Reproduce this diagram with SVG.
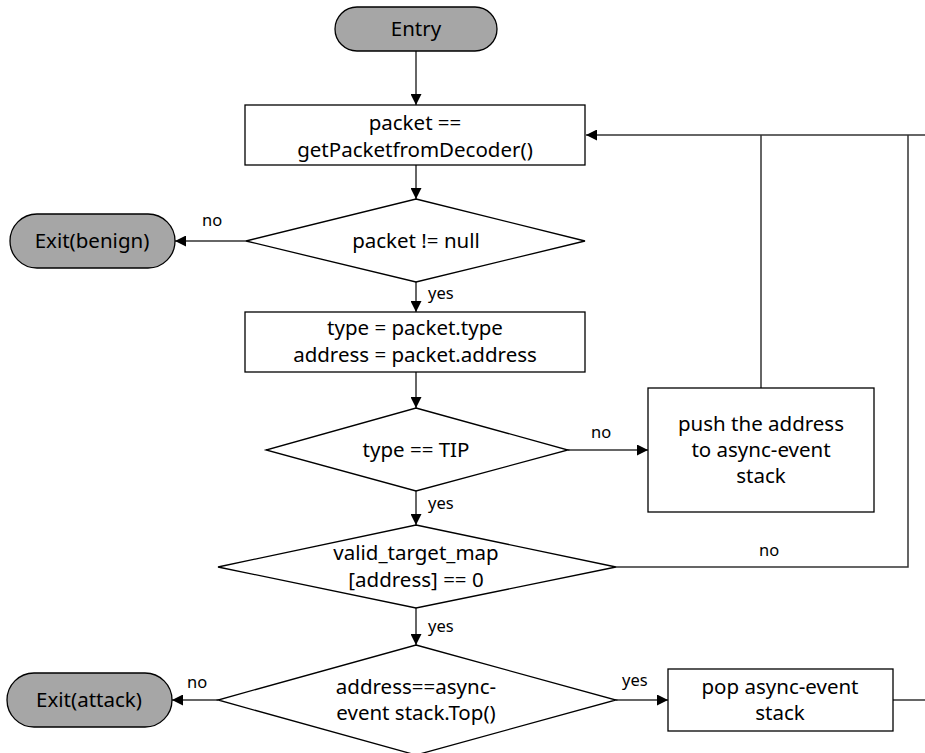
<svg xmlns="http://www.w3.org/2000/svg" width="925" height="753" viewBox="0 0 925 753">
  <defs>
    <marker id="arrow" viewBox="0 0 10 10" refX="10" refY="5" markerWidth="11" markerHeight="11" markerUnits="userSpaceOnUse" orient="auto">
      <path d="M0,0 L10,5 L0,10 Z" fill="#000"/>
    </marker>
    <style>
      .shape { fill: #fff; stroke: #000; stroke-width: 1.3; }
      .term { fill: #a6a6a6; stroke: #000; stroke-width: 1.3; }
      .edge { fill: none; stroke: #333; stroke-width: 1.5; }
      .arr { marker-end: url(#arrow); }
      text { font-family: "Noto Sans", "Open Sans", sans-serif; font-size: 20.5px; fill: #000; text-anchor: middle; }
      .lbl { font-size: 16.5px; text-anchor: start; }
    </style>
  </defs>
  <rect width="925" height="753" fill="#fff"/>

  <!-- connectors -->
  <g id="connectors">
    <line class="edge arr" x1="416" y1="51" x2="416" y2="105"/>
    <line class="edge arr" x1="416" y1="165" x2="416" y2="199"/>
    <line class="edge arr" x1="246" y1="241" x2="175" y2="241"/>
    <line class="edge arr" x1="416" y1="282" x2="416" y2="312"/>
    <line class="edge arr" x1="416" y1="372" x2="416" y2="408"/>
    <line class="edge arr" x1="568" y1="450" x2="648" y2="450"/>
    <line class="edge arr" x1="416" y1="491" x2="416" y2="525"/>
    <line class="edge arr" x1="416" y1="608" x2="416" y2="645"/>
    <line class="edge arr" x1="218" y1="700" x2="172" y2="700"/>
    <line class="edge arr" x1="616" y1="700" x2="668" y2="700"/>
    <line class="edge" x1="893" y1="700" x2="925" y2="700"/>
    <!-- loop back to the decoder box -->
    <line class="edge arr" x1="925" y1="135" x2="586" y2="135"/>
    <line class="edge" x1="761" y1="388" x2="761" y2="135"/>
    <polyline class="edge" points="616,567 908,567 908,135"/>
    <text class="lbl" x="202" y="226">no</text>
    <text class="lbl" x="428" y="299">yes</text>
    <text class="lbl" x="591" y="438">no</text>
    <text class="lbl" x="428" y="509">yes</text>
    <text class="lbl" x="759" y="556">no</text>
    <text class="lbl" x="428" y="632">yes</text>
    <text class="lbl" x="187" y="688">no</text>
    <text class="lbl" x="622" y="686">yes</text>
  </g>

  <g id="entry">
    <rect class="term" x="335" y="7" width="162" height="44" rx="22"/>
    <text x="416" y="36">Entry</text>
  </g>

  <g id="get-packet">
    <rect class="shape" x="245" y="105" width="340" height="60"/>
    <text x="415" y="130">packet ==</text>
    <text x="415" y="157">getPacketfromDecoder()</text>
  </g>

  <g id="packet-not-null">
    <polygon class="shape" points="416,199 585,241 416,282 246,241"/>
    <text x="416" y="248">packet != null</text>
  </g>

  <g id="exit-benign">
    <rect class="term" x="10" y="214" width="165" height="54" rx="27"/>
    <text x="92" y="248">Exit(benign)</text>
  </g>

  <g id="read-fields">
    <rect class="shape" x="245" y="312" width="340" height="60"/>
    <text x="415" y="335">type = packet.type</text>
    <text x="415" y="362">address = packet.address</text>
  </g>

  <g id="type-tip">
    <polygon class="shape" points="416,408 568,450 416,491 266,450"/>
    <text x="416" y="457">type == TIP</text>
  </g>

  <g id="push-address">
    <rect class="shape" x="648" y="388" width="226" height="124"/>
    <text x="761" y="431">push the address</text>
    <text x="761" y="457">to async-event</text>
    <text x="761" y="483">stack</text>
  </g>

  <g id="valid-target">
    <polygon class="shape" points="416,525 616,567 416,608 218,567"/>
    <text x="416" y="560">valid_target_map</text>
    <text x="416" y="587">[address] == 0</text>
  </g>

  <g id="stack-top">
    <polygon class="shape" points="416,645 616,700 416,755 218,700"/>
    <text x="416" y="694">address==async-</text>
    <text x="416" y="720">event stack.Top()</text>
  </g>

  <g id="exit-attack">
    <rect class="term" x="7" y="673" width="165" height="54" rx="27"/>
    <text x="89" y="707">Exit(attack)</text>
  </g>

  <g id="pop-stack">
    <rect class="shape" x="668" y="669" width="225" height="62"/>
    <text x="780" y="694">pop async-event</text>
    <text x="780" y="720">stack</text>
  </g>
</svg>
